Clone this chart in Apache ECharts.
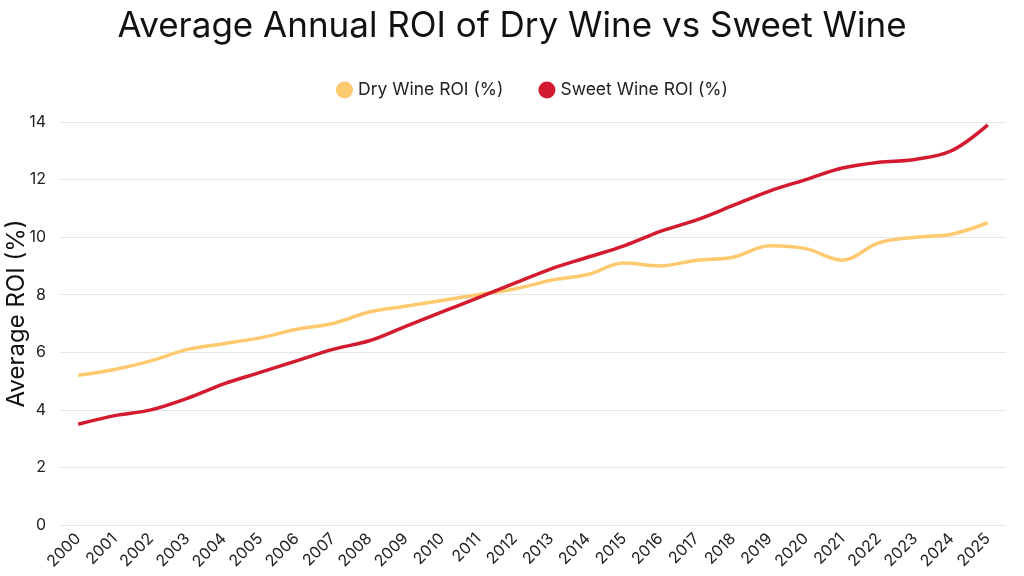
<!DOCTYPE html>
<html>
<head>
<meta charset="utf-8">
<script src="https://cdn.jsdelivr.net/npm/echarts@6/dist/echarts.min.js"></script>
<style>html,body{margin:0;padding:0;background:#fff}#c{width:1024px;height:576px}</style>
</head>
<body>
<div id="c"></div>
<script>
const years = ["2000","2001","2002","2003","2004","2005","2006","2007","2008","2009","2010","2011","2012","2013","2014","2015","2016","2017","2018","2019","2020","2021","2022","2023","2024","2025"];
const dryWine = [5.2,5.4,5.7,6.1,6.3,6.5,6.8,7.0,7.4,7.6,7.8,8.0,8.2,8.5,8.7,9.1,9.0,9.2,9.3,9.7,9.6,9.2,9.8,10.0,10.1,10.5];
const sweetWine = [3.5,3.8,4.0,4.4,4.9,5.3,5.7,6.1,6.4,6.9,7.4,7.9,8.4,8.9,9.3,9.7,10.2,10.6,11.1,11.6,12.0,12.4,12.6,12.7,13.0,13.9];
const yTicks = [0,2,4,6,8,10,12,14];

const font = 'Inter, "Open Sans", sans-serif';
const chart = echarts.init(document.getElementById('c'), null, {renderer:'canvas'});
chart.setOption({
  animation:false,
  backgroundColor:'#ffffff',
  title:{text:'Average Annual ROI of Dry Wine vs Sweet Wine', left:'center', top:4,
    textStyle:{fontFamily:font, fontSize:35, fontWeight:'normal', color:'#111'}},
  legend:{top:76, left:331, itemWidth:17, itemHeight:17, itemGap:35, itemTextGap:7, icon:'circle',
    textStyle:{fontFamily:font, fontSize:17.5, color:'#222'},
    data:['Dry Wine ROI (%)','Sweet Wine ROI (%)']},
  grid:{left:60, right:18, top:122, bottom:51, containLabel:false, outerBoundsMode:'none'},
  xAxis:{type:'category', data:years, boundaryGap:true,
    axisLine:{show:false}, axisTick:{show:false},
    axisLabel:{rotate:45, fontFamily:font, fontSize:16, color:'#222', margin:11, interval:0}},
  yAxis:{type:'value', min:yTicks[0], max:yTicks[yTicks.length-1], interval:2,
    name:'Average ROI (%)', nameLocation:'middle', nameGap:31, nameMoveOverlap:false,
    nameTextStyle:{fontFamily:font, fontSize:24, color:'#111', padding:[0,0,0,20]},
    axisLabel:{fontFamily:font, fontSize:16, color:'#222', margin:14},
    splitLine:{lineStyle:{color:'#e6e6e6', width:1}}},
  series:[
    {name:'Dry Wine ROI (%)', type:'line', data:dryWine, smooth:0.35, showSymbol:false, symbol:'circle',
     itemStyle:{color:'#FFC96F'}, lineStyle:{color:'#FFC96F', width:3.5}},
    {name:'Sweet Wine ROI (%)', type:'line', data:sweetWine, smooth:0.35, showSymbol:false, symbol:'circle',
     itemStyle:{color:'#D31A2F'}, lineStyle:{color:'#D31A2F', width:3.5}}
  ]
});
</script>
</body>
</html>
